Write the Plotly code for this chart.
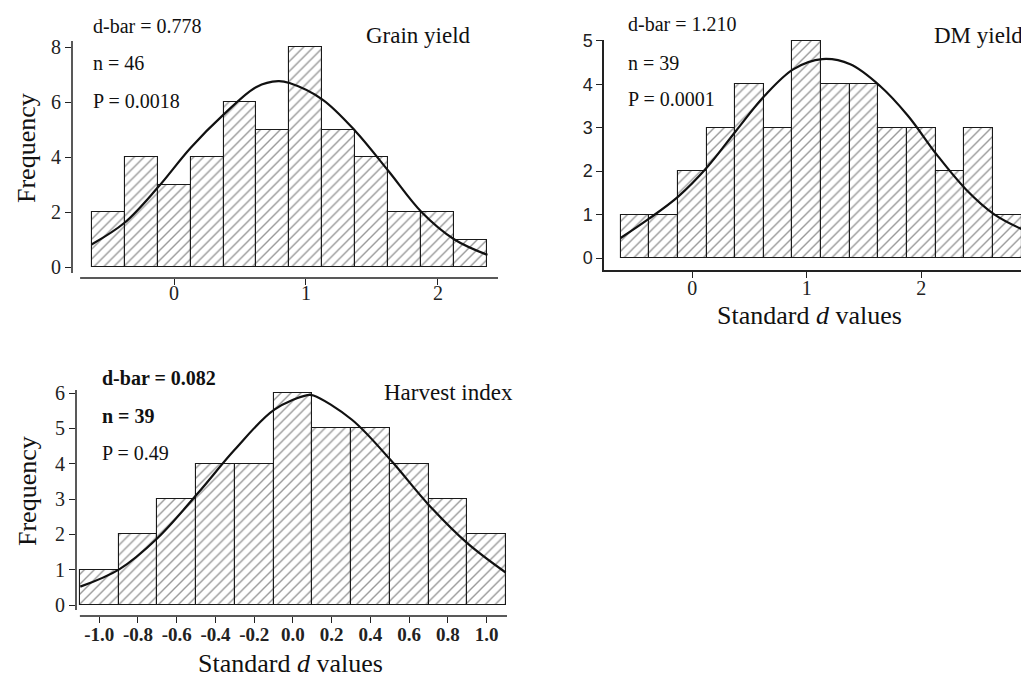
import plotly.graph_objects as go

W, H = 1029, 679

# ---------------- data ----------------
grain_centers = [-0.5, -0.25, 0.0, 0.25, 0.5, 0.75, 1.0, 1.25, 1.5, 1.75, 2.0, 2.25]
grain_counts = [2, 4, 3, 4, 6, 5, 8, 5, 4, 2, 2, 1]
grain_curve_x = [-0.625, -0.375, -0.125, 0.125, 0.375, 0.625, 0.79, 0.875, 1.125, 1.375, 1.625, 1.875, 2.125, 2.375]
grain_curve_y = [0.82, 1.61, 2.88, 4.33, 5.54, 6.55, 6.76, 6.69, 6.09, 4.94, 3.49, 2.0, 1.0, 0.44]

dm_centers = [-0.5, -0.25, 0.0, 0.25, 0.5, 0.75, 1.0, 1.25, 1.5, 1.75, 2.0, 2.25, 2.5, 2.75]
dm_counts = [1, 1, 2, 3, 4, 3, 5, 4, 4, 3, 3, 2, 3, 1]
dm_curve_x = [-0.625, -0.38, -0.12, 0.13, 0.38, 0.63, 0.885, 1.135, 1.38, 1.64, 1.885, 2.135, 2.39, 2.64, 2.89]
dm_curve_y = [0.46, 0.90, 1.42, 2.09, 2.92, 3.73, 4.35, 4.58, 4.46, 3.96, 3.27, 2.38, 1.58, 1.0, 0.65]

hi_centers = [-1.0, -0.8, -0.6, -0.4, -0.2, 0.0, 0.2, 0.4, 0.6, 0.8, 1.0]
hi_counts = [1, 2, 3, 4, 4, 6, 5, 5, 4, 3, 2]
hi_curve_x = [-1.098, -0.897, -0.70, -0.49, -0.30, -0.096, 0.075, 0.106, 0.303, 0.503, 0.70, 0.90, 1.098]
hi_curve_y = [0.52, 1.01, 1.89, 3.17, 4.40, 5.53, 5.94, 5.93, 5.25, 4.11, 2.84, 1.75, 0.92]

grain_stats = ["d-bar = 0.778", "n = 46", "P = 0.0018"]
dm_stats = ["d-bar = 1.210", "n = 39", "P = 0.0001"]
hi_stats = ["<b>d-bar = 0.082</b>", "<b>n = 39</b>", "P = 0.49"]

grain_xticks = [0, 1, 2]
dm_xticks = [0, 1, 2, 3]
hi_xticks = [-1.0, -0.8, -0.6, -0.4, -0.2, 0.0, 0.2, 0.4, 0.6, 0.8, 1.0]
grain_yticks = [0, 2, 4, 6, 8]
dm_yticks = [0, 1, 2, 3, 4, 5]
hi_yticks = [0, 1, 2, 3, 4, 5, 6]

SERIF = "Liberation Serif, Times New Roman, serif"
SANS = "Liberation Sans, Arial, sans-serif"


def px(x):
    return x / W


def py(y):
    return 1 - y / H


fig = go.Figure()

bar_style = dict(
    marker=dict(
        color="white",
        line=dict(color="#1a1a1a", width=1.1),
        pattern=dict(shape="/", fgcolor="#333333", bgcolor="white", size=7, solidity=0.2),
    ),
    showlegend=False,
    hoverinfo="skip",
)
curve_style = dict(mode="lines", line=dict(color="#111111", width=2.2, shape="spline"),
                   showlegend=False, hoverinfo="skip")

fig.add_trace(go.Bar(x=grain_centers, y=grain_counts, width=0.25, xaxis="x", yaxis="y", **bar_style))
fig.add_trace(go.Scatter(x=grain_curve_x, y=grain_curve_y, xaxis="x", yaxis="y", **curve_style))
fig.add_trace(go.Bar(x=dm_centers, y=dm_counts, width=0.25, xaxis="x2", yaxis="y2", **bar_style))
fig.add_trace(go.Scatter(x=dm_curve_x, y=dm_curve_y, xaxis="x2", yaxis="y2", **curve_style))
fig.add_trace(go.Bar(x=hi_centers, y=hi_counts, width=0.2, xaxis="x3", yaxis="y3", **bar_style))
fig.add_trace(go.Scatter(x=hi_curve_x, y=hi_curve_y, xaxis="x3", yaxis="y3", **curve_style))

tickfont = dict(family=SERIF, size=20, color="#222222")
common = dict(showgrid=False, zeroline=False, ticks="outside", tickcolor="#222222",
              ticklen=6, tickwidth=1.2, automargin=False, fixedrange=True)

fig.update_layout(
    width=W, height=H,
    margin=dict(l=0, r=0, t=0, b=0),
    paper_bgcolor="white", plot_bgcolor="white",
    bargap=0,
    xaxis=dict(domain=[px(64), px(490)], range=[-0.773, 2.455], anchor="y",
               tickvals=grain_xticks, tickfont=tickfont, showline=False,
               ticklabelstandoff=-9, **common),
    yaxis=dict(domain=[py(270), py(33)], range=[-0.40, 8.22], anchor="x",
               tickvals=grain_yticks, tickfont=tickfont, showline=False, **common),
    xaxis2=dict(domain=[px(596), 1.0], range=[-0.77, 3.01], anchor="y2",
                tickvals=dm_xticks, tickfont=tickfont, showline=True, linecolor="#222222",
                linewidth=1.5, ticklabelstandoff=-7, **common),
    yaxis2=dict(domain=[py(262), py(32)], range=[-0.276, 5.02], anchor="x2",
                tickvals=dm_yticks, tickfont=dict(family=SANS, size=18, color="#222222"),
                tickprefix="<b>", ticksuffix="</b>",
                showline=True, linecolor="#222222", linewidth=1.5, **common),
    xaxis3=dict(domain=[px(68), px(499)], range=[-1.12, 1.105], anchor="y3",
                tickvals=hi_xticks, ticktext=["<b>%.1f</b>" % v for v in hi_xticks],
                tickfont=dict(family=SERIF, size=19, color="#222222"), showline=False,
                ticklabelstandoff=-5, **common),
    yaxis3=dict(domain=[py(608), py(382)], range=[-0.311, 6.085], anchor="x3",
                tickvals=hi_yticks, tickfont=tickfont, showline=False, **common),
)

# detached axis lines for panels 1 and 3
line_st = dict(color="#222222", width=1.5)
shapes = [
    dict(type="line", xref="x domain", yref="y domain", x0=0, x1=0, y0=0.021, y1=1, line=line_st),
    dict(type="line", xref="x domain", yref="y domain", x0=0.019, x1=1, y0=0, y1=0, line=line_st),
    dict(type="line", xref="x3 domain", yref="y3 domain", x0=0, x1=0, y0=0.027, y1=1, line=line_st),
    dict(type="line", xref="x3 domain", yref="y3 domain", x0=0.009, x1=1, y0=0, y1=0, line=line_st),
]
fig.update_layout(shapes=shapes)

DY = -7
ann = []
stat_font = dict(family=SERIF, size=20, color="#111111")
for stats, xl, ys in [(grain_stats, 83, [25, 62, 100]),
                      (dm_stats, 618, [23, 62, 98]),
                      (hi_stats, 92, [377, 415, 452])]:
    for t, yy in zip(stats, ys):
        ann.append(dict(text=t, x=px(xl), y=py(yy + DY), xref="paper", yref="paper",
                        xanchor="left", yanchor="middle", showarrow=False, font=stat_font))

title_font = dict(family=SERIF, size=23, color="#111111")
for t, xc, yc in [("Grain yield", 410, 35), ("DM yield", 970, 35), ("Harvest index", 440, 391)]:
    ann.append(dict(text=t, x=px(xc), y=py(yc + DY), xref="paper", yref="paper",
                    xanchor="center", yanchor="middle", showarrow=False, font=title_font))

axis_font = dict(family=SERIF, size=26, color="#111111")
for xc, yc in [(19, 140), (19, 483)]:
    ann.append(dict(text="Frequency", x=px(xc), y=py(yc), xref="paper", yref="paper",
                    textangle=-90, xanchor="center", yanchor="middle", showarrow=False,
                    font=axis_font))
for xc, yc in [(801, 315), (282, 662)]:
    ann.append(dict(text="Standard <i>d</i> values", x=px(xc), y=py(yc - 7), xref="paper",
                    yref="paper", xanchor="center", yanchor="middle", showarrow=False,
                    font=axis_font))

fig.update_layout(annotations=ann)

fig.write_html("out.html")
